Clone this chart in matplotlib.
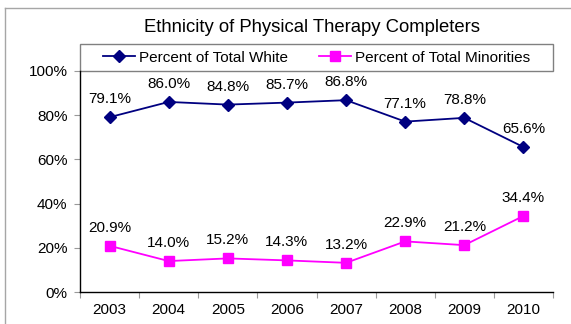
import matplotlib.pyplot as plt
from matplotlib.patches import Rectangle
from matplotlib.ticker import FixedLocator, PercentFormatter

plt.rcParams['font.family'] = ['Liberation Sans', 'DejaVu Sans']

years = ['2003', '2004', '2005', '2006', '2007', '2008', '2009', '2010']
white = [79.1, 86.0, 84.8, 85.7, 86.8, 77.1, 78.8, 65.6]
minorities = [20.9, 14.0, 15.2, 14.3, 13.2, 22.9, 21.2, 34.4]

fig = plt.figure(figsize=(5.71, 3.24), dpi=100)

# outer chart frame, only its left and top edges fall inside the image
frame_x = 4.5 / 571
frame_y = 1 - 7.5 / 324
fig.add_artist(plt.Line2D([frame_x, frame_x], [0, frame_y], transform=fig.transFigure,
                          color='#a6a6a6', linewidth=1.0))
fig.add_artist(plt.Line2D([frame_x, 1], [frame_y, frame_y], transform=fig.transFigure,
                          color='#a6a6a6', linewidth=1.0))

ax = fig.add_axes([80 / 571, 1 - 292 / 324, 473 / 571, 221 / 324])

x = list(range(len(years)))
ax.plot(x, white, color='#000080', linewidth=1.3, marker='D',
        markersize=6, label='Percent of Total White')
ax.plot(x, minorities, color='#ff00ff', linewidth=1.3, marker='s',
        markersize=6.5, label='Percent of Total Minorities')

for xi, v in zip(x, white):
    ax.annotate(f'{v:.1f}%', (xi, v), xytext=(0, 13), textcoords='offset points',
                ha='center', va='center', fontsize=11)
for xi, v in zip(x, minorities):
    ax.annotate(f'{v:.1f}%', (xi, v), xytext=(0, 13), textcoords='offset points',
                ha='center', va='center', fontsize=11)

ax.set_xlim(-0.5, len(years) - 0.5)
ax.set_ylim(0, 100)
ax.set_yticks([0, 20, 40, 60, 80, 100])
ax.yaxis.set_major_formatter(PercentFormatter(decimals=0))
ax.set_xticks(x)
ax.set_xticklabels(years)
ax.xaxis.set_minor_locator(FixedLocator([i - 0.5 for i in range(len(years) + 1)]))

ax.tick_params(axis='x', which='major', length=0, pad=8, labelsize=11)
ax.tick_params(axis='x', which='minor', length=4, width=0.8, direction='out',
               color='#999999')
ax.tick_params(axis='y', length=4, width=0.8, pad=5, labelsize=11, color='#999999')

for side in ('top', 'right'):
    ax.spines[side].set_visible(False)
for side in ('left', 'bottom'):
    ax.spines[side].set_linewidth(1.0)

# legend box across the top of the plot area
ax.add_patch(Rectangle((0, 1), 1, 27 / 221, transform=ax.transAxes,
                       fill=False, edgecolor='#808080', linewidth=1.0,
                       clip_on=False))
ax.legend(loc='center', bbox_to_anchor=(0.5, 1 + 13.5 / 221), ncol=2,
          frameon=False, fontsize=11, handlelength=2.1, handletextpad=0.25,
          columnspacing=2.0, borderaxespad=0)

fig.text(312 / 571, 1 - 27 / 324, 'Ethnicity of Physical Therapy Completers',
         ha='center', va='center', fontsize=13.3)

fig.savefig('out.png', dpi=100)
